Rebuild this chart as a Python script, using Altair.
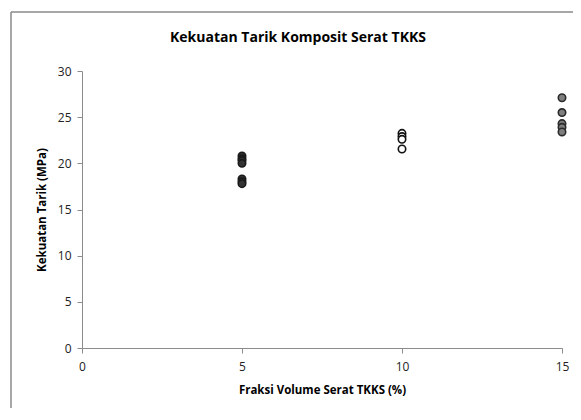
import altair as alt
import pandas as pd

x5 = [20.8, 20.5, 20.3, 20.0, 18.3, 18.0, 17.8]
x10 = [23.25, 22.9, 22.6, 21.55]
x15 = [27.1, 25.5, 24.3, 23.9, 23.4]
title_text = "Kekuatan Tarik Komposit Serat TKKS"

rows = []
for v in x5:
    rows.append({"fraksi": 5, "kuat": v, "grp": "5"})
for v in x10:
    rows.append({"fraksi": 10, "kuat": v, "grp": "10"})
for v in x15:
    rows.append({"fraksi": 15, "kuat": v, "grp": "15"})
df = pd.DataFrame(rows)

W, H = 480, 277
FONT = "Open Sans"
one = pd.DataFrame({"a": [0]})

frame_top = alt.Chart(one).mark_rule(
    stroke="#8a8a8a", strokeWidth=1.5, clip=False
).encode(x=alt.value(-71), x2=alt.value(W + 20), y=alt.value(-59))

frame_left = alt.Chart(one).mark_rule(
    stroke="#8a8a8a", strokeWidth=1.5, clip=False
).encode(x=alt.value(-71), y=alt.value(-59), y2=alt.value(H + 70))

title = alt.Chart(one).mark_text(
    font=FONT, fontSize=14, fontWeight="bold", color="#000000",
    align="center", baseline="middle", clip=False
).encode(
    x=alt.value(W / 2 - 24), y=alt.value(-33), text=alt.value(title_text)
)

base = alt.Chart(df).encode(
    x=alt.X("fraksi:Q", scale=alt.Scale(domain=[0, 15], nice=False),
            axis=alt.Axis(values=[0, 5, 10, 15], title="Fraksi Volume Serat TKKS (%)",
                          grid=False, tickSize=5, labelPadding=8, titlePadding=12,
                          labelFlush=False)),
    y=alt.Y("kuat:Q", scale=alt.Scale(domain=[0, 30], nice=False),
            axis=alt.Axis(values=[0, 5, 10, 15, 20, 25, 30], title="Kekuatan Tarik (MPa)",
                          grid=False, tickSize=5, labelPadding=6, titlePadding=10,
                          labelFlush=False)),
)

pts = base.mark_point(filled=False, size=55, strokeWidth=1.6, opacity=1).encode(
    fill=alt.Fill("grp:N", scale=alt.Scale(domain=["5", "10", "15"],
                                           range=["#333333", "#ffffff", "#7f7f7f"]), legend=None),
    stroke=alt.Stroke("grp:N", scale=alt.Scale(domain=["5", "10", "15"],
                                               range=["#1a1a1a", "#111111", "#2a2a2a"]), legend=None),
)

chart = alt.layer(frame_top, frame_left, title, pts).properties(
    width=W, height=H,
    padding={"left": 74, "top": 63, "right": 11, "bottom": 60},
    autosize=alt.AutoSizeParams(type="none"),
).configure_view(stroke=None).configure_axis(
    domainColor="#8c8c8c", tickColor="#8c8c8c", labelFont=FONT, titleFont=FONT,
    labelFontSize=12, titleFontSize=11.5, labelColor="#222222", titleColor="#000000",
    titleFontWeight="bold"
).configure_axisY(domain=True)

chart.save("out.html", embed_options={"renderer": "svg", "actions": False})
